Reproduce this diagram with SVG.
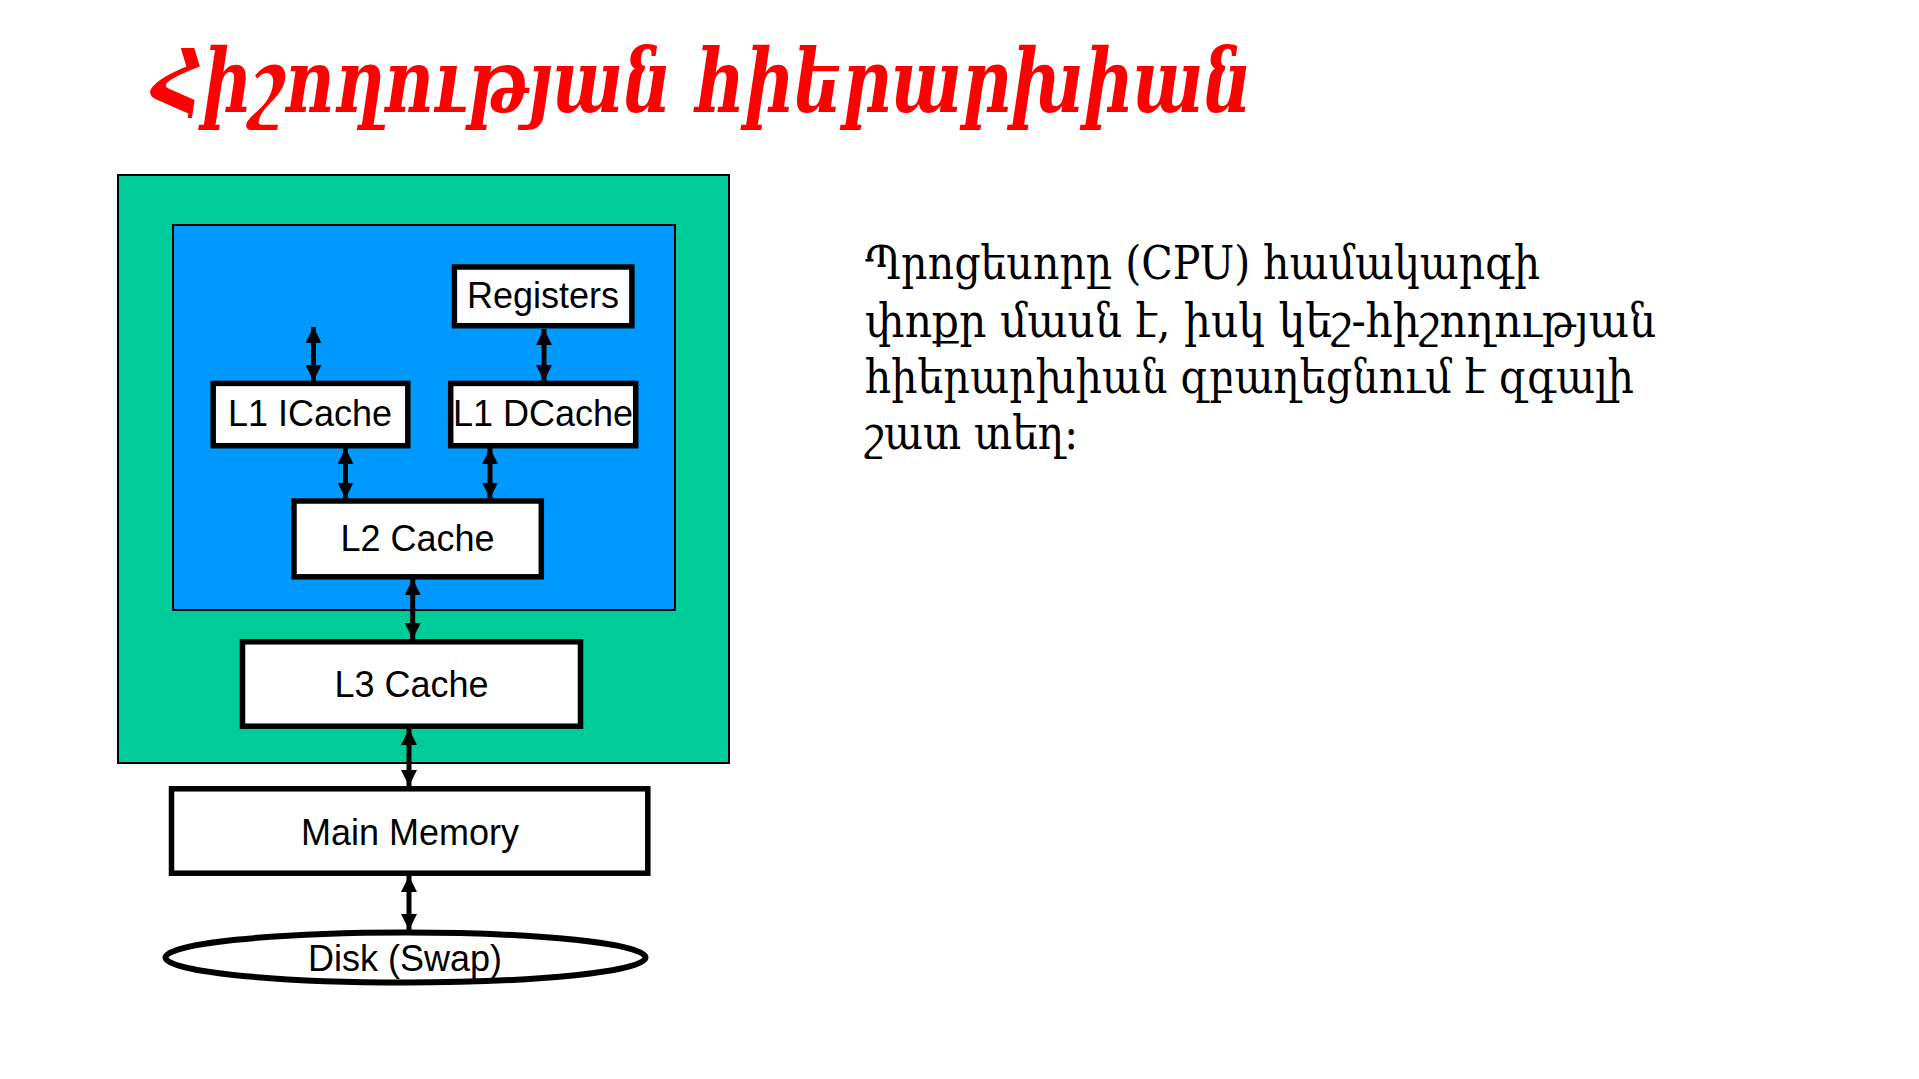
<svg xmlns="http://www.w3.org/2000/svg" width="1919" height="1079" viewBox="0 0 1919 1079">
<defs>
<style>
.box{fill:#fff;stroke:#000;stroke-width:5.5}
.lbl{font-family:"Liberation Sans",Arial,sans-serif;font-size:36px;fill:#000;text-anchor:middle}
.arr{stroke:#000;stroke-width:5;fill:none;marker-start:url(#ah);marker-end:url(#ah)}
.title{font-family:"DejaVu Serif Condensed","DejaVu Serif",serif;font-style:italic;font-weight:bold;font-size:88px;fill:#ff0000}
.body{font-family:"DejaVu Serif Condensed","DejaVu Serif",serif;font-size:46px;fill:#000}
</style>
<marker id="ah" viewBox="0 0 16 16" refX="16" refY="8" markerWidth="16" markerHeight="16" markerUnits="userSpaceOnUse" orient="auto-start-reverse">
<path d="M0,0 L16,8 L0,16 Z" fill="#000"/>
</marker>
</defs>
<rect width="1919" height="1079" fill="#fff"/>
<text id="title" class="title" x="153" y="112" textLength="1099" lengthAdjust="spacingAndGlyphs">Հիշողության հիերարխիան</text>
<g id="cpu">
<rect x="118" y="175" width="611" height="588" fill="#00cc99" stroke="#000" stroke-width="2"/>
</g>
<g id="core">
<rect x="173" y="225" width="502" height="385" fill="#0099ff" stroke="#000" stroke-width="2"/>
</g>
<g id="registers"><rect class="box" x="454.4" y="267" width="177.5" height="58.7"/><text class="lbl" x="543" y="308">Registers</text></g>
<g id="l1i"><rect class="box" x="213.2" y="383.4" width="194.6" height="62.3"/><text class="lbl" x="310" y="426">L1 ICache</text></g>
<g id="l1d"><rect class="box" x="450.7" y="383.4" width="185" height="62.3"/><text class="lbl" x="543" y="426">L1 DCache</text></g>
<g id="l2"><rect class="box" x="294" y="501" width="247.3" height="75.8"/><text class="lbl" x="417.6" y="551">L2 Cache</text></g>
<g id="l3"><rect class="box" x="242.5" y="641.8" width="338" height="84.4"/><text class="lbl" x="411.5" y="697">L3 Cache</text></g>
<g id="mem"><rect class="box" x="171.5" y="788.8" width="476.3" height="84.4"/><text class="lbl" x="410" y="845">Main Memory</text></g>
<g id="disk"><ellipse cx="405.5" cy="957.5" rx="240" ry="25" fill="#fff" stroke="#000" stroke-width="6"/><text class="lbl" x="405" y="971">Disk (Swap)</text></g>
<g id="connectors">
<line class="arr" x1="313.5" y1="327" x2="313.5" y2="381"/>
<line class="arr" x1="544" y1="329" x2="544" y2="381"/>
<line class="arr" x1="345.5" y1="448" x2="345.5" y2="498.5"/>
<line class="arr" x1="490" y1="448" x2="490" y2="498.5"/>
<line class="arr" x1="412.7" y1="579" x2="412.7" y2="639"/>
<line class="arr" x1="409" y1="729" x2="409" y2="786"/>
<line class="arr" x1="409" y1="876" x2="409" y2="930"/>
</g>
<g id="desc" class="body" xml:space="preserve">
<text x="865" y="279" textLength="675" lengthAdjust="spacingAndGlyphs">Պրոցեսորը (CPU) համակարգի</text>
<text x="865" y="337" textLength="791" lengthAdjust="spacingAndGlyphs">փոքր մասն  է, իսկ կեշ-հիշողության</text>
<text x="865" y="393" textLength="769" lengthAdjust="spacingAndGlyphs">հիերարխիան  զբաղեցնում է զգալի</text>
<text x="865" y="449" textLength="213" lengthAdjust="spacingAndGlyphs">շատ տեղ:</text>
</g>
</svg>
